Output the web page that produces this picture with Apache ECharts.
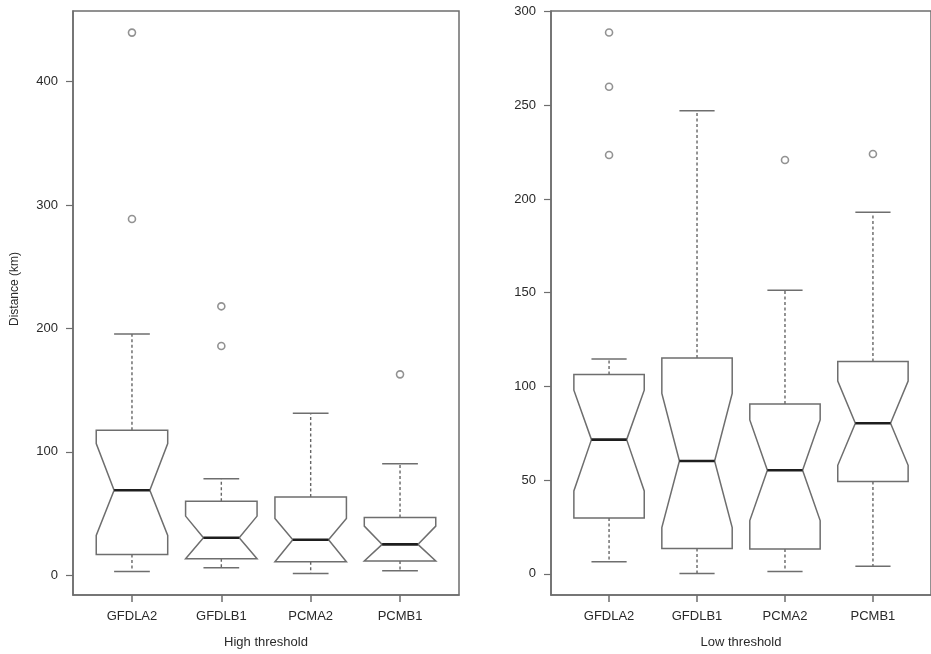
<!DOCTYPE html>
<html><head><meta charset="utf-8">
<script src="https://cdn.jsdelivr.net/npm/echarts@6/dist/echarts.min.js"></script>
<style>html,body{margin:0;padding:0;background:#fff}#c{width:931px;height:654px}</style>
</head><body><div id="c"></div>
<script>
const categories = ['GFDLA2', 'GFDLB1', 'PCMA2', 'PCMB1'];

// High threshold
const highLowerWhisker = [3.2, 6.2, 1.6, 3.8];
const highQ1 = [17.0, 13.5, 11.1, 11.6];
const highNotchLow = [32.4, 13.5, 11.1, 11.6];
const highMedian = [69.0, 30.5, 28.9, 25.1];
const highNotchHigh = [106.8, 48.0, 46.1, 39.9];
const highQ3 = [117.6, 60.1, 63.4, 46.9];
const highUpperWhisker = [195.5, 78.2, 131.3, 90.4];
const highOutliers = [[439.6, 288.6], [217.9, 185.8], [], [162.8]];

// Low threshold
const lowLowerWhisker = [6.4, 0.2, 1.3, 4.1];
const lowQ1 = [29.8, 13.5, 13.2, 49.2];
const lowNotchLow = [44.2, 24.7, 28.4, 57.9];
const lowMedian = [71.6, 60.2, 55.3, 80.3];
const lowNotchHigh = [98.0, 96.3, 82.1, 102.8];
const lowQ3 = [106.4, 115.1, 90.6, 113.3];
const lowUpperWhisker = [114.6, 247.1, 151.3, 192.9];
const lowOutliers = [[288.8, 259.9, 223.5], [], [220.8], [224.0]];

const highTicks = [0, 100, 200, 300, 400];
const lowTicks = [0, 50, 100, 150, 200, 250, 300];
const catPositions = [1, 2, 3, 4];

function boxData(lw, q1, nl, md, nh, q3, uw) {
  return categories.map((c, i) => [i + 1, lw[i], q1[i], nl[i], md[i], nh[i], q3[i], uw[i]]);
}
function outlierData(out) {
  const d = [];
  out.forEach((arr, i) => arr.forEach(v => d.push([i + 1, v])));
  return d;
}

const LINE = '#6e6e6e';
const HALF = 0.4;
function renderBox(params, api) {
  const x = api.value(0);
  const lw = api.value(1), q1 = api.value(2), nl = api.value(3), md = api.value(4),
        nh = api.value(5), q3 = api.value(6), uw = api.value(7);
  const P = (dx, v) => api.coord([x + dx, v]);
  const w = HALF, n = HALF * 0.5;
  const poly = [P(-w, q1), P(w, q1), P(w, nl), P(n, md), P(w, nh), P(w, q3), P(-w, q3), P(-w, nh), P(-n, md), P(-w, nl)];
  const dash = {stroke: '#666', lineWidth: 1.4, lineDash: [3, 2.5]};
  const solid = {stroke: LINE, lineWidth: 1.5};
  const c0 = P(0, uw), c1 = P(0, q3), c2 = P(0, q1), c3 = P(0, lw);
  return {
    type: 'group',
    children: [
      {type: 'line', shape: {x1: c1[0], y1: c1[1], x2: c0[0], y2: c0[1]}, style: dash},
      {type: 'line', shape: {x1: c2[0], y1: c2[1], x2: c3[0], y2: c3[1]}, style: dash},
      {type: 'line', shape: {x1: P(-n, uw)[0], y1: c0[1], x2: P(n, uw)[0], y2: c0[1]}, style: solid},
      {type: 'line', shape: {x1: P(-n, lw)[0], y1: c3[1], x2: P(n, lw)[0], y2: c3[1]}, style: solid},
      {type: 'polygon', shape: {points: poly}, style: {fill: '#fff', stroke: LINE, lineWidth: 1.5}},
      {type: 'line', shape: {x1: P(-n, md)[0], y1: P(-n, md)[1], x2: P(n, md)[0], y2: P(n, md)[1]}, style: {stroke: '#1e1e1e', lineWidth: 2.6}}
    ]
  };
}

const FONT = '"Liberation Sans", Arial, Helvetica, sans-serif';
const TXT = '#2a2a2a';

function xAxisDef(gridIndex, name) {
  return {
    type: 'value', gridIndex, min: 0.34, max: 4.66,
    name, nameLocation: 'middle', nameGap: 41,
    nameTextStyle: {fontFamily: FONT, fontSize: 13, color: TXT},
    axisLine: {show: true, onZero: false, lineStyle: {color: LINE, width: 1.5}},
    axisTick: {show: true, length: 7, customValues: catPositions, lineStyle: {color: LINE, width: 1.5}},
    axisLabel: {customValues: catPositions, margin: 15, fontFamily: FONT, fontSize: 13, color: TXT,
      formatter: v => categories[Math.round(v) - 1] || ''},
    splitLine: {show: false}
  };
}
function yAxisDef(gridIndex, min, max, ticks, name) {
  return {
    type: 'value', gridIndex, min, max,
    name: name || '', nameLocation: 'middle', nameGap: 52, nameRotate: 90,
    nameTextStyle: {fontFamily: FONT, fontSize: 12, color: TXT, padding: [0, 0, 0, 28]},
    axisLine: {show: true, onZero: false, lineStyle: {color: LINE, width: 1.5}},
    axisTick: {show: true, length: 7, customValues: ticks, lineStyle: {color: LINE, width: 1.2}},
    axisLabel: {customValues: ticks, margin: 15, fontFamily: FONT, fontSize: 13, color: TXT},
    splitLine: {show: false}
  };
}

const chart = echarts.init(document.getElementById('c'), null, {renderer: 'canvas'});
chart.setOption({
  animation: false,
  backgroundColor: '#fff',
  grid: [
    {left: 73, top: 11, width: 386, height: 585, show: true, borderColor: LINE, borderWidth: 1.5, backgroundColor: 'transparent'},
    {left: 551, top: 11, width: 385, height: 585, show: true, borderColor: LINE, borderWidth: 1.5, backgroundColor: 'transparent'}
  ],
  xAxis: [xAxisDef(0, 'High threshold'), xAxisDef(1, 'Low threshold')],
  yAxis: [yAxisDef(0, -15.9, 457.1, highTicks, 'Distance (km)'), yAxisDef(1, -11.3, 300.3, lowTicks)],
  series: [
    {type: 'custom', xAxisIndex: 0, yAxisIndex: 0, renderItem: renderBox,
      data: boxData(highLowerWhisker, highQ1, highNotchLow, highMedian, highNotchHigh, highQ3, highUpperWhisker),
      encode: {x: 0, y: [1, 2, 3, 4, 5, 6, 7]}},
    {type: 'custom', xAxisIndex: 1, yAxisIndex: 1, renderItem: renderBox,
      data: boxData(lowLowerWhisker, lowQ1, lowNotchLow, lowMedian, lowNotchHigh, lowQ3, lowUpperWhisker),
      encode: {x: 0, y: [1, 2, 3, 4, 5, 6, 7]}},
    {type: 'scatter', xAxisIndex: 0, yAxisIndex: 0, data: outlierData(highOutliers), symbol: 'circle', symbolSize: 7,
      itemStyle: {color: '#fff', borderColor: '#777', borderWidth: 1.6}},
    {type: 'scatter', xAxisIndex: 1, yAxisIndex: 1, data: outlierData(lowOutliers), symbol: 'circle', symbolSize: 7,
      itemStyle: {color: '#fff', borderColor: '#777', borderWidth: 1.6}}
  ]
});
</script></body></html>
